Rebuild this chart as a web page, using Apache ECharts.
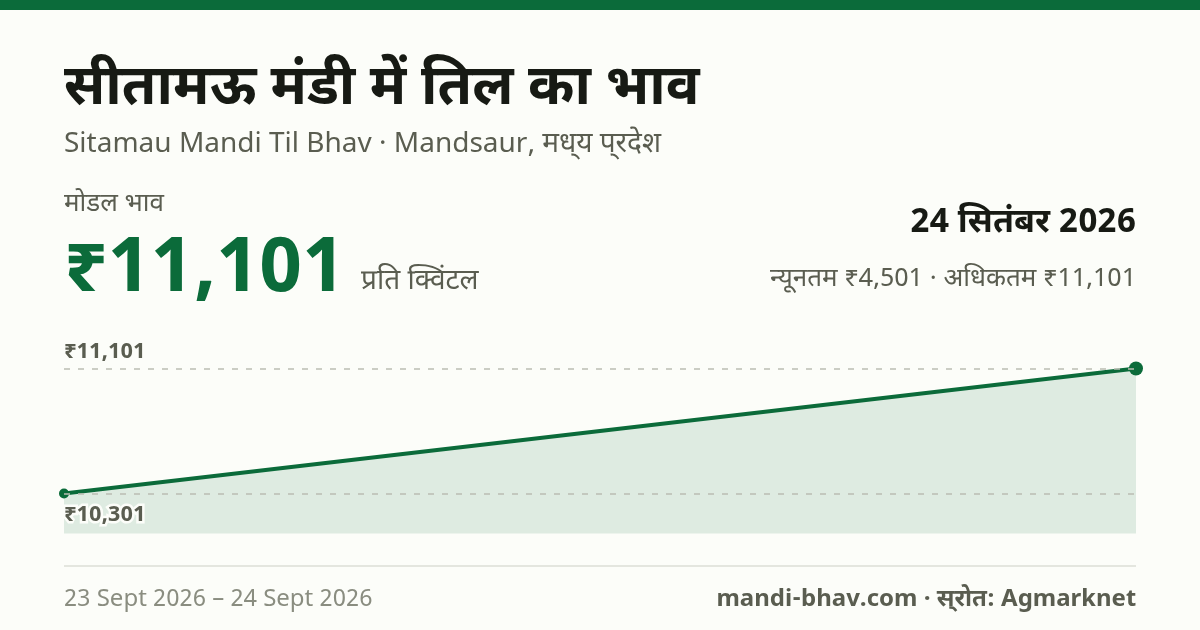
<!DOCTYPE html>
<html>
<head>
<meta charset="utf-8">
<title>Sitamau Mandi Til Bhav</title>
<script src="https://cdn.jsdelivr.net/npm/echarts@6/dist/echarts.min.js"></script>
<style>
  html, body { margin: 0; padding: 0; background: #fcfdf9; }
  #chart { width: 1200px; height: 630px; }
</style>
</head>
<body>
<div id="chart"></div>
<script>
const dates = ['23 Sept 2026', '24 Sept 2026'];
const modalPrices = [10301, 11101];
const guideValues = [11101, 10301];
const guideLabels = ['₹11,101', '₹10,301'];
const pointSizes = [10, 14];
const axisBottom = 10045;

const GREEN = '#0b6b3a';
const INK = '#171a14';
const MUTED = '#5a5d50';
const FONT = '"Noto Sans Devanagari", "Noto Sans", sans-serif';

// base = text baseline, zrender has no alphabetic align so go from the top
function txt(x, base, text, size, weight, fill, align) {
  return {
    type: 'text', x: x, y: base - 0.74 * size, silent: true,
    style: { text: text, fontFamily: FONT, fontSize: size, fontWeight: weight, fill: fill,
      align: align || 'left', verticalAlign: 'top' }
  };
}

const ec = echarts.init(document.getElementById('chart'), null, { renderer: 'canvas' });
ec.setOption({
  animation: false,
  backgroundColor: '#fcfdf9',
  grid: { left: 64, right: 64, top: 368.5, height: 165 },
  xAxis: { type: 'category', boundaryGap: false, data: dates, show: false },
  yAxis: { type: 'value', min: axisBottom, max: guideValues[0], show: false },
  series: [{
    type: 'line',
    data: modalPrices.map((v, i) => ({ value: v, symbolSize: pointSizes[i] })),
    symbol: 'circle',
    showAllSymbol: true,
    clip: false,
    lineStyle: { color: GREEN, width: 4 },
    itemStyle: { color: GREEN },
    areaStyle: { color: GREEN, opacity: 0.12 },
    markLine: {
      silent: true,
      symbol: 'none',
      lineStyle: { color: '#bbbdb3', type: [6, 8], width: 1.5 },
      data: guideValues.map((v, i) => ({
        yAxis: v,
        label: {
          show: true,
          formatter: guideLabels[i],
          position: i === 0 ? 'insideStartTop' : 'insideStartBottom',
          distance: i === 0 ? [0, 4] : [0, 12],
          color: MUTED,
          fontFamily: FONT,
          fontSize: 22,
          fontWeight: 700,
          textBorderColor: i === 0 ? 'transparent' : '#fcfdf9',
          textBorderWidth: i === 0 ? 0 : 5
        }
      }))
    }
  }],
  graphic: [
    { type: 'rect', shape: { x: 0, y: 0, width: 1200, height: 10 }, style: { fill: GREEN }, silent: true },
    txt(64, 107, 'सीतामऊ मंडी में तिल का भाव', 56, 700, INK),
    txt(64, 153, 'Sitamau Mandi Til Bhav · Mandsaur, मध्‌य प्‌रदेश', 28, 400, MUTED),
    txt(64, 212, 'मोडल भाव', 26, 400, MUTED),
    txt(64, 295, '₹11,101', 76, 700, GREEN),
    txt(361, 290, 'प्रति क्विंटल', 28, 400, MUTED),
    txt(1136, 234, '24 सितंबर 2026', 34, 700, INK, 'right'),
    txt(1136, 287, 'न्यूनतम ₹4,501 · अधिकतम ₹11,101', 26, 400, MUTED, 'right'),
    { type: 'rect', shape: { x: 64, y: 565, width: 1072, height: 2 }, style: { fill: '#e4e6df' }, silent: true },
    txt(64, 607, dates[0] + ' – ' + dates[1], 24, 400, '#8a8d80'),
    txt(1136, 607, 'mandi-bhav.com · स्‌रोत: Agmarknet', 24, 700, MUTED, 'right')
  ]
});
</script>
</body>
</html>
